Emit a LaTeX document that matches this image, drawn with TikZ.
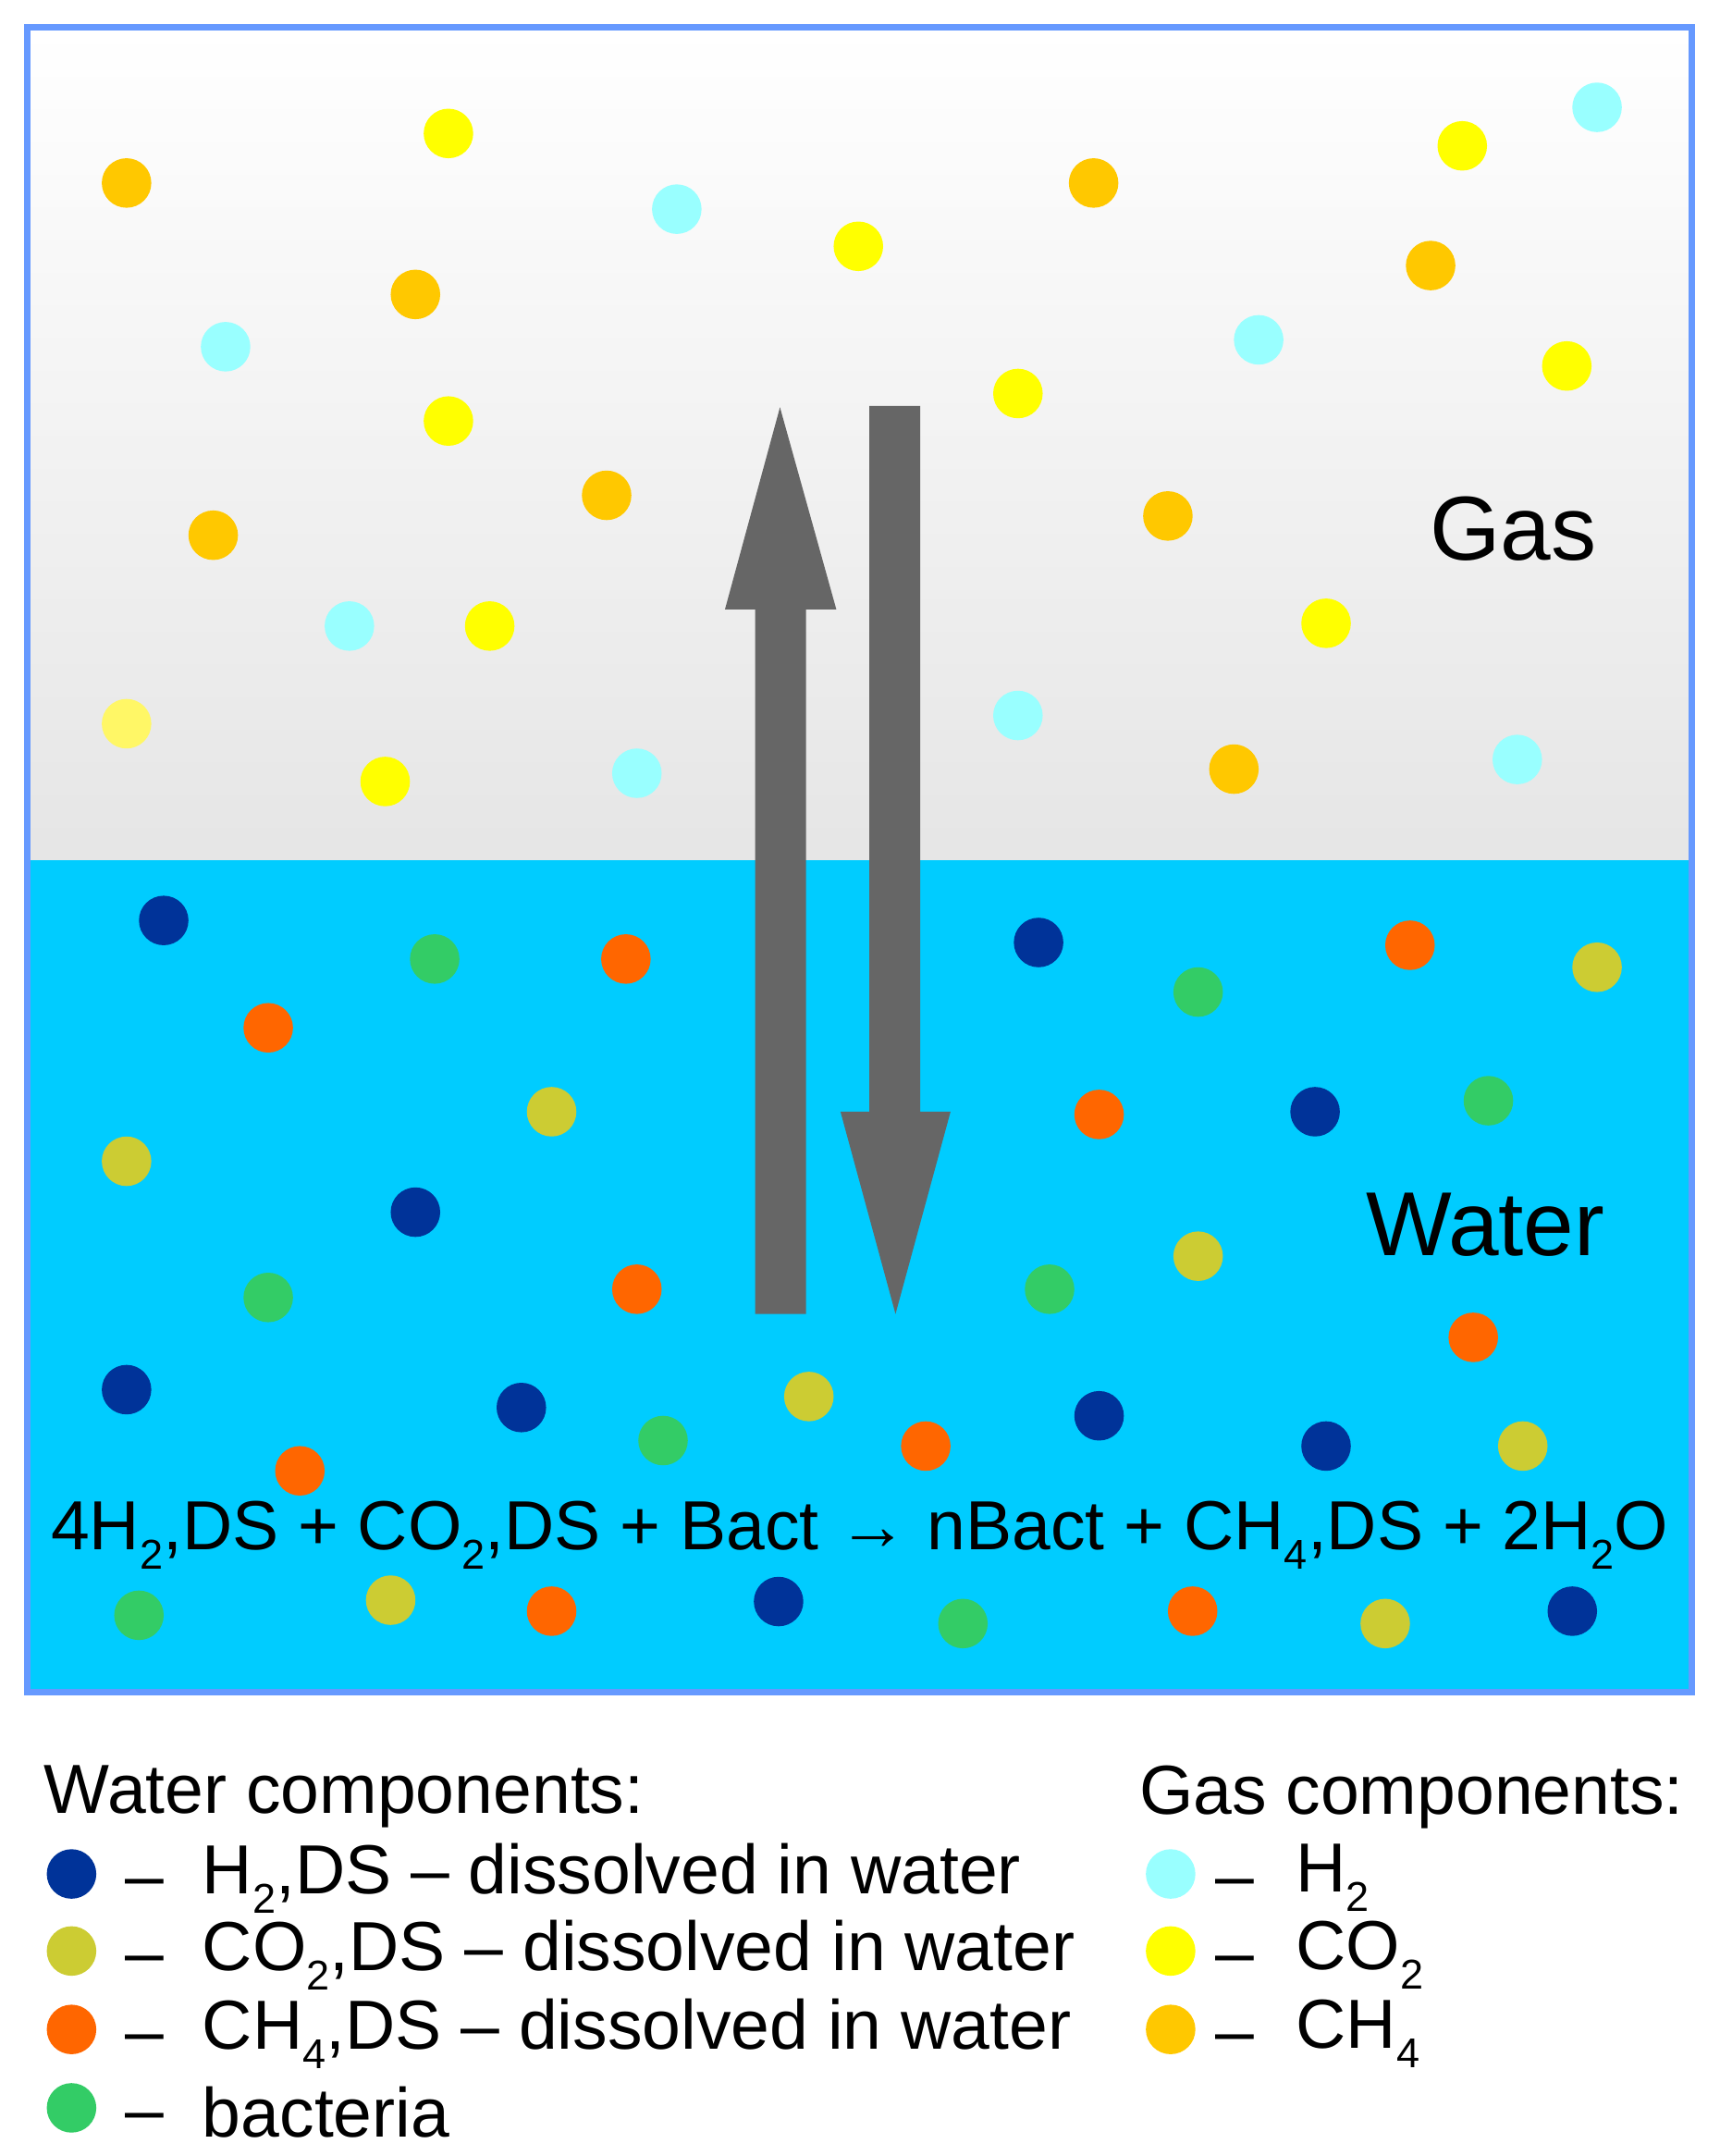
\documentclass[tikz,border=0pt]{standalone}
\usepackage{fontspec}
\setmainfont{Liberation Sans}
\newcommand{\dn}[1]{\raisebox{-0.28em}{\scalebox{0.6}{#1}}}
\definecolor{bord}{HTML}{6699FF}
\definecolor{water}{HTML}{00CCFF}
\definecolor{arr}{HTML}{666666}
\definecolor{cH}{HTML}{99FFFF}
\definecolor{cC}{HTML}{FFFF00}
\definecolor{cM}{HTML}{FFC800}
\definecolor{wH}{HTML}{003399}
\definecolor{wC}{HTML}{CCCC33}
\definecolor{wM}{HTML}{FF6600}
\definecolor{wB}{HTML}{33CC66}
\begin{document}
\begin{tikzpicture}[x=1pt,y=-1pt,
  dot/.style={circle,inner sep=0pt,minimum size=36pt,fill=#1},
  big/.style={font=\fontsize{66}{72}\selectfont},
  txt/.style={font=\fontsize{50.5}{56}\selectfont,inner sep=0pt}]
\useasboundingbox (0,0) rectangle (1250,1567);
\fill[white] (0,0) rectangle (1250,1567);
\shade[top color=white,bottom color=black!10] (20,20) rectangle (1230,625);
\fill[water] (20,625) rectangle (1230,1230);
\draw[bord,line width=5pt] (20,20) rectangle (1230,1230);
% gas
\foreach \p in {(92,133),(302,214),(155,389),(441,360),(795,133),(1040,193),(849,375),(897,559)} \node[dot=cM] at \p {};
\foreach \p in {(326,97),(624,179),(326,306),(356,455),(280,568),(740,286),(1063,106),(1139,266),(964,453)} \node[dot=cC] at \p {};
\node[dot=yellow!60] at (92,526) {};
\foreach \p in {(1161,78),(492,152),(164,252),(915,247),(254,455),(463,562),(740,520),(1103,552)} \node[dot=cH] at \p {};
% water
\foreach \p in {(119,669),(755,685),(302,881),(956,808),(92,1010),(379,1023),(799,1029),(964,1051),(566,1164),(1143,1171)} \node[dot=wH] at \p {};
\foreach \p in {(316,697),(871,721),(195,943),(1082,800),(763,937),(482,1047),(101,1174),(700,1180)} \node[dot=wB] at \p {};
\foreach \p in {(455,697),(195,747),(1025,687),(799,810),(463,937),(1071,972),(218,1069),(673,1051),(401,1171),(867,1171)} \node[dot=wM] at \p {};
\foreach \p in {(1161,703),(401,808),(92,844),(871,913),(588,1015),(1107,1051),(284,1163),(1007,1180)} \node[dot=wC] at \p {};
% arrows
\fill[arr] (549,955) -- (549,443) -- (527,443) -- (567,296) -- (608,443) -- (586,443) -- (586,955) -- cycle;
\fill[arr] (632,295) -- (632,808) -- (611,808) -- (651,955) -- (691,808) -- (669,808) -- (669,295) -- cycle;
\node[big,anchor=east] (gas) at (1164,384) {Gas};
\node[big,anchor=east] (wat) at (1170,890) {Water};
\node[txt] (eq) at (625,1116) {4H\dn{2},DS + CO\dn{2},DS + Bact → nBact + CH\dn{4},DS + 2H\dn{2}O};
% legend
\node[txt,anchor=west] (wl) at (32,1306) {Water components:};
\node[txt,anchor=west] (gl) at (828,1306) {Gas components:};
\foreach \y/\c/\t in {1362/wH/{H\dn{2},DS – dissolved in water},1418/wC/{CO\dn{2},DS – dissolved in water},1475/wM/{CH\dn{4},DS – dissolved in water},1532/wB/{bacteria}}{
  \node[dot=\c] at (52,\y) {};
  \node[txt] at (105,\y+11) {–};
  \node[txt,anchor=west] at (147,\y+3) {\t};}
\foreach \y/\c/\t in {1362/cH/{H\dn{2}},1418/cC/{CO\dn{2}},1475/cM/{CH\dn{4}}}{
  \node[dot=\c] at (851,\y) {};
  \node[txt] at (898,\y+11) {–};
  \node[txt,anchor=west] at (942,\y+3) {\t};}
\end{tikzpicture}
\end{document}
